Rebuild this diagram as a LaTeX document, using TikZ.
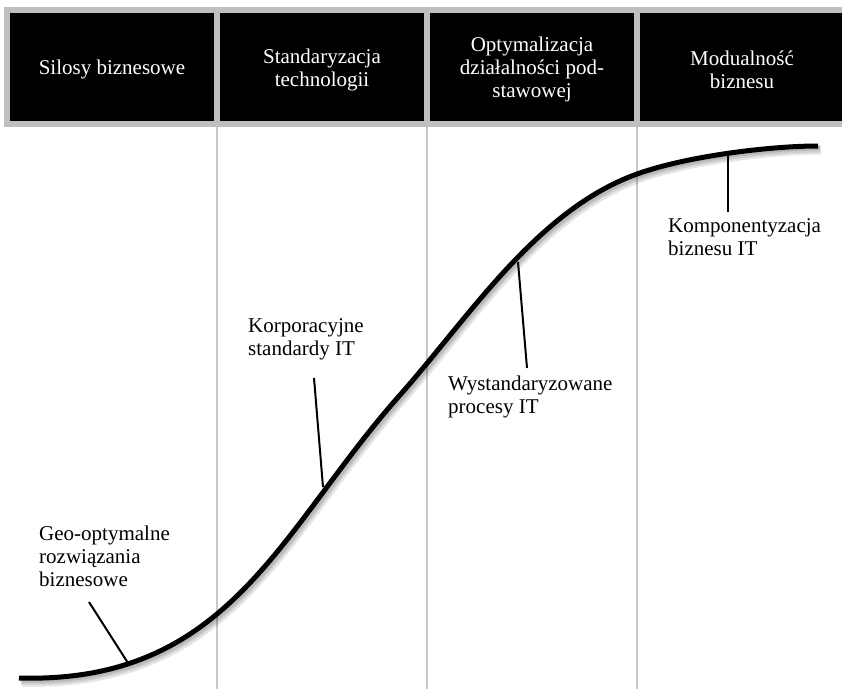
\documentclass[tikz,border=0pt]{standalone}
\usepackage{fontspec}
\setmainfont{Liberation Serif}
\definecolor{framegray}{HTML}{BFBFBF}
\definecolor{linegray}{HTML}{C8C8C8}
\begin{document}
\begin{tikzpicture}[x=1pt,y=-1pt,
  hbox/.style={fill=black,minimum width=204pt,minimum height=108pt,inner sep=0pt,draw=none},
  htext/.style={text=white,align=center,inner sep=0pt,font=\fontsize{21}{23}\selectfont},
  lbl/.style={anchor=base west,inner sep=0pt,font=\fontsize{21}{23}\selectfont},
  vline/.style={draw=linegray,line width=1.5pt},
  leader/.style={draw=black,line width=2pt},
  scurve/.style={draw=black,line width=5pt},
  shadowline/.style={draw=black,opacity=0.10}]
\useasboundingbox (0,0) rectangle (842,689);
% header frame
\fill[framegray] (4,7) rectangle (850,127);
\node[hbox] (h1) at (112,67) {};
\node[hbox] (h2) at (322,67) {};
\node[hbox] (h3) at (532,67) {};
\node[hbox] (h4) at (742,67) {};
\node[htext] (t1) at ([yshift=-2.5pt]h1.center) {Silosy biznesowe};
\node[htext] (t2) at ([yshift=-2.5pt]h2.center) {Standaryzacja\\technologii};
\node[htext] (t3) at ([yshift=-2.5pt]h3.center) {Optymalizacja\\działalności pod-\\stawowej};
\node[htext] (t4) at ([yshift=-2.5pt]h4.center) {Modualność\\biznesu};
% vertical separators
\coordinate (v1t) at (217,127); \coordinate (v1b) at (217,689);
\coordinate (v2t) at (427,127); \coordinate (v2b) at (427,689);
\coordinate (v3t) at (637,127); \coordinate (v3b) at (637,689);
\draw[vline] (v1t) -- (v1b);
\draw[vline] (v2t) -- (v2b);
\draw[vline] (v3t) -- (v3b);
% S-curve with shadow
\foreach \dx/\dy/\w in {3/4/9, 2/3/7, 2/2/5}{
  \begin{scope}[shift={(\dx,\dy)}]
  \draw[shadowline,line width=\w pt] (19,678) .. controls (230,684) and (280,530) .. (400,395)
     .. controls (470,316) and (537,210) .. (637,174)
     .. controls (687,156) and (770,146) .. (818,146);
  \end{scope}
}
\draw[scurve] (19,678) .. controls (230,684) and (280,530) .. (400,395)
     .. controls (470,316) and (537,210) .. (637,174)
     .. controls (687,156) and (770,146) .. (818,146);
% labels
\node[lbl] (geo) at (39,540) {\vtop{\hbox{Geo-optymalne}\hbox{rozwiązania}\hbox{biznesowe}}};
\node[lbl] (korp) at (248,332) {\vtop{\hbox{Korporacyjne}\hbox{standardy IT}}};
\node[lbl] (wyst) at (448,390) {\vtop{\hbox{Wystandaryzowane}\hbox{procesy IT}}};
\node[lbl] (komp) at (668,232) {\vtop{\hbox{Komponentyzacja}\hbox{biznesu IT}}};
% leaders
\coordinate (g1) at (89,602);  \coordinate (g2) at (128,663);
\coordinate (k1) at (314,378); \coordinate (k2) at (323,487);
\coordinate (w1) at (527,368); \coordinate (w2) at (518,262);
\coordinate (m1) at (728,212); \coordinate (m2) at (728,153);
\draw[leader] (g1) -- (g2);
\draw[leader] (k1) -- (k2);
\draw[leader] (w1) -- (w2);
\draw[leader] (m1) -- (m2);
\end{tikzpicture}
\end{document}
